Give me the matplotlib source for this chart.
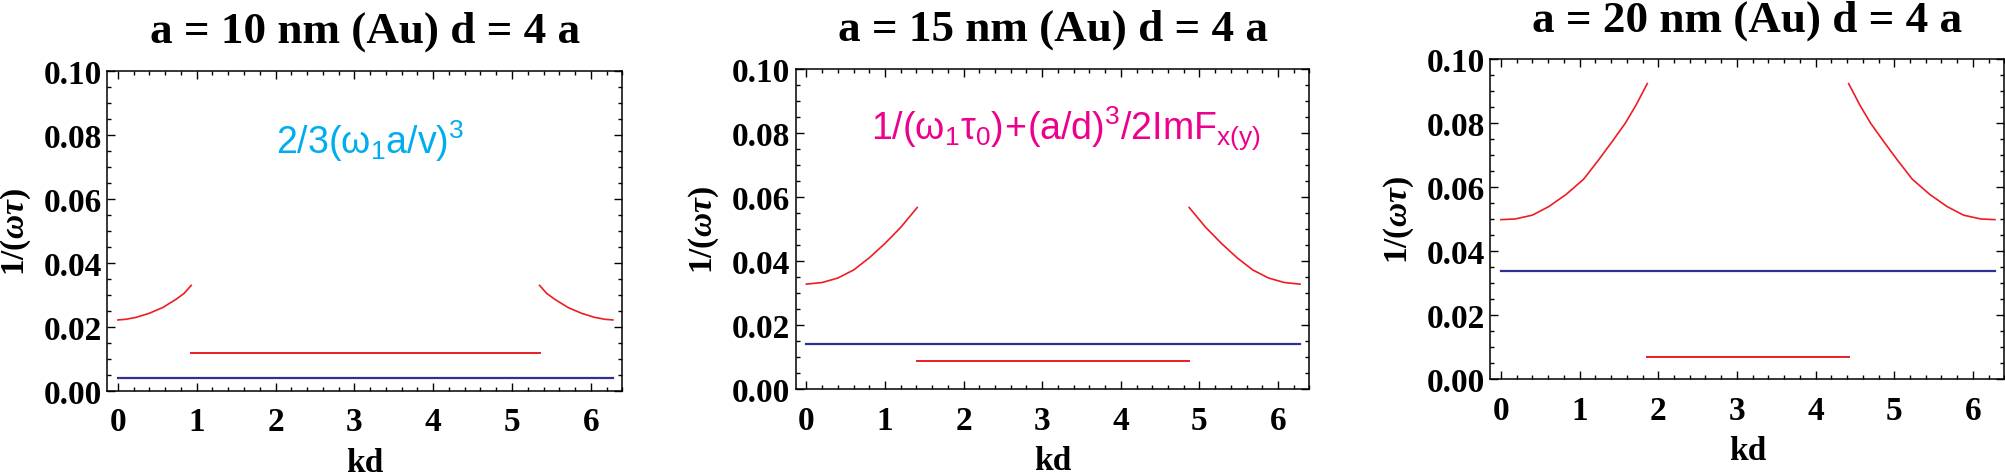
import numpy as np
import matplotlib
matplotlib.use("Agg")
import matplotlib.pyplot as plt
from matplotlib.ticker import MultipleLocator, FormatStrFormatter

plt.rcParams['font.family'] = ['Liberation Serif', 'DejaVu Serif']
plt.rcParams['font.weight'] = 'bold'
plt.rcParams['mathtext.fontset'] = 'custom'
plt.rcParams['mathtext.rm'] = 'Liberation Sans:weight=normal'
plt.rcParams['mathtext.it'] = 'Liberation Serif:italic:bold'
plt.rcParams['mathtext.bf'] = 'Liberation Serif:bold'

# ---- data ----
titles = ["a = 10 nm (Au) d = 4 a", "a = 15 nm (Au) d = 4 a", "a = 20 nm (Au) d = 4 a"]

# panel 1 (a = 10 nm)
kd_left_1 = [0.0, 0.10, 0.23, 0.40, 0.57, 0.74, 0.84, 0.93]
w_left_1 = [0.0222, 0.0224, 0.0230, 0.0243, 0.0261, 0.0287, 0.0305, 0.0330]
kd_right_1 = [5.35, 5.44, 5.54, 5.71, 5.88, 6.05, 6.18, 6.28]
w_right_1 = [0.0330, 0.0305, 0.0287, 0.0261, 0.0243, 0.0230, 0.0224, 0.0222]
kd_mid_1 = [0.93, 5.35]
w_mid_1 = [0.0120, 0.0120]
w_blue_1 = 0.00416

# panel 2 (a = 15 nm)
kd_left_2 = [0.0, 0.2, 0.4, 0.6, 0.8, 1.0, 1.2, 1.41]
w_left_2 = [0.0328, 0.0333, 0.0347, 0.0372, 0.0410, 0.0455, 0.0505, 0.0567]
kd_right_2 = [4.87, 5.08, 5.28, 5.48, 5.68, 5.88, 6.08, 6.28]
w_right_2 = [0.0567, 0.0505, 0.0455, 0.0410, 0.0372, 0.0347, 0.0333, 0.0328]
kd_mid_2 = [1.41, 4.87]
w_mid_2 = [0.00885, 0.00885]
w_blue_2 = 0.0142

# panel 3 (a = 20 nm)
kd_left_3 = [0.0, 0.18, 0.40, 0.61, 0.83, 1.05, 1.24, 1.42, 1.58, 1.72, 1.86]
w_left_3 = [0.0499, 0.0501, 0.0513, 0.0540, 0.0578, 0.0625, 0.0685, 0.0745, 0.0800, 0.0858, 0.0924]
kd_right_3 = [4.42, 4.56, 4.70, 4.86, 5.04, 5.23, 5.45, 5.67, 5.88, 6.10, 6.28]
w_right_3 = [0.0924, 0.0858, 0.0800, 0.0745, 0.0685, 0.0625, 0.0578, 0.0540, 0.0513, 0.0501, 0.0499]
kd_mid_3 = [1.86, 4.42]
w_mid_3 = [0.00706, 0.00706]
w_blue_3 = 0.0340

kd_full = [0.0, 2 * np.pi]

notes = [r'$\mathrm{2/3(\omega_1a/v)^3}$',
         r'$\mathrm{1/(\omega_1\tau_0)\!+\!(a/d)^3/2ImF_{x(y)}}$',
         None]
note_colors = ['#00AEEF', '#EC008C', None]
note_pos = [(0.51, 0.744), (0.526, 0.781), None]

panels = [
    (kd_left_1, w_left_1, kd_right_1, w_right_1, kd_mid_1, w_mid_1, w_blue_1),
    (kd_left_2, w_left_2, kd_right_2, w_right_2, kd_mid_2, w_mid_2, w_blue_2),
    (kd_left_3, w_left_3, kd_right_3, w_right_3, kd_mid_3, w_mid_3, w_blue_3),
]

# axes rectangles (figure fraction)
rects = [[0.0535, 0.1782, 0.2569, 0.6709],
         [0.3969, 0.1818, 0.2562, 0.6721],
         [0.7433, 0.2027, 0.2564, 0.6709]]

red = '#ED1C24'
blue = '#2E3192'

fig = plt.figure(figsize=(20.05, 4.77), dpi=100)

for i, (kl, wl, kr, wr, km, wm, wb) in enumerate(panels):
    ax = fig.add_axes(rects[i])
    ax.plot(kl, wl, color=red, lw=1.2)
    ax.plot(kr, wr, color=red, lw=1.2)
    ax.plot(km, wm, color=red, lw=1.4)
    ax.plot(kd_full, [wb, wb], color=blue, lw=1.6)

    ax.set_xlim(-0.135, 6.40)
    ax.set_ylim(0, 0.1)
    ax.xaxis.set_major_locator(MultipleLocator(1))
    ax.xaxis.set_minor_locator(MultipleLocator(0.2))
    ax.yaxis.set_major_locator(MultipleLocator(0.02))
    ax.yaxis.set_minor_locator(MultipleLocator(0.005))
    ax.yaxis.set_major_formatter(FormatStrFormatter('%.2f'))
    ax.tick_params(which='both', direction='in', top=True, right=True,
                   width=1.0, labelsize=24)
    ax.tick_params(which='major', length=5.5)
    ax.tick_params(which='minor', length=3)
    ax.tick_params(axis='x', pad=11)
    ax.tick_params(axis='y', pad=4)
    for s in ax.spines.values():
        s.set_linewidth(1.1)

    ax.set_title(titles[i], fontsize=32.5, fontweight='bold', pad=21)
    ax.set_xlabel('kd', fontsize=24, fontweight='bold', labelpad=7)
    ax.set_ylabel(r'$\mathbf{1/(}\omega\tau\mathbf{)}$', fontsize=24)
    ax.yaxis.set_label_coords(-0.145, 0.5)

    if notes[i] is not None:
        ax.text(note_pos[i][0], note_pos[i][1], notes[i], color=note_colors[i],
                fontsize=27, fontweight='normal', ha='center', va='baseline',
                transform=ax.transAxes)

fig.savefig('out.png', dpi=100)
